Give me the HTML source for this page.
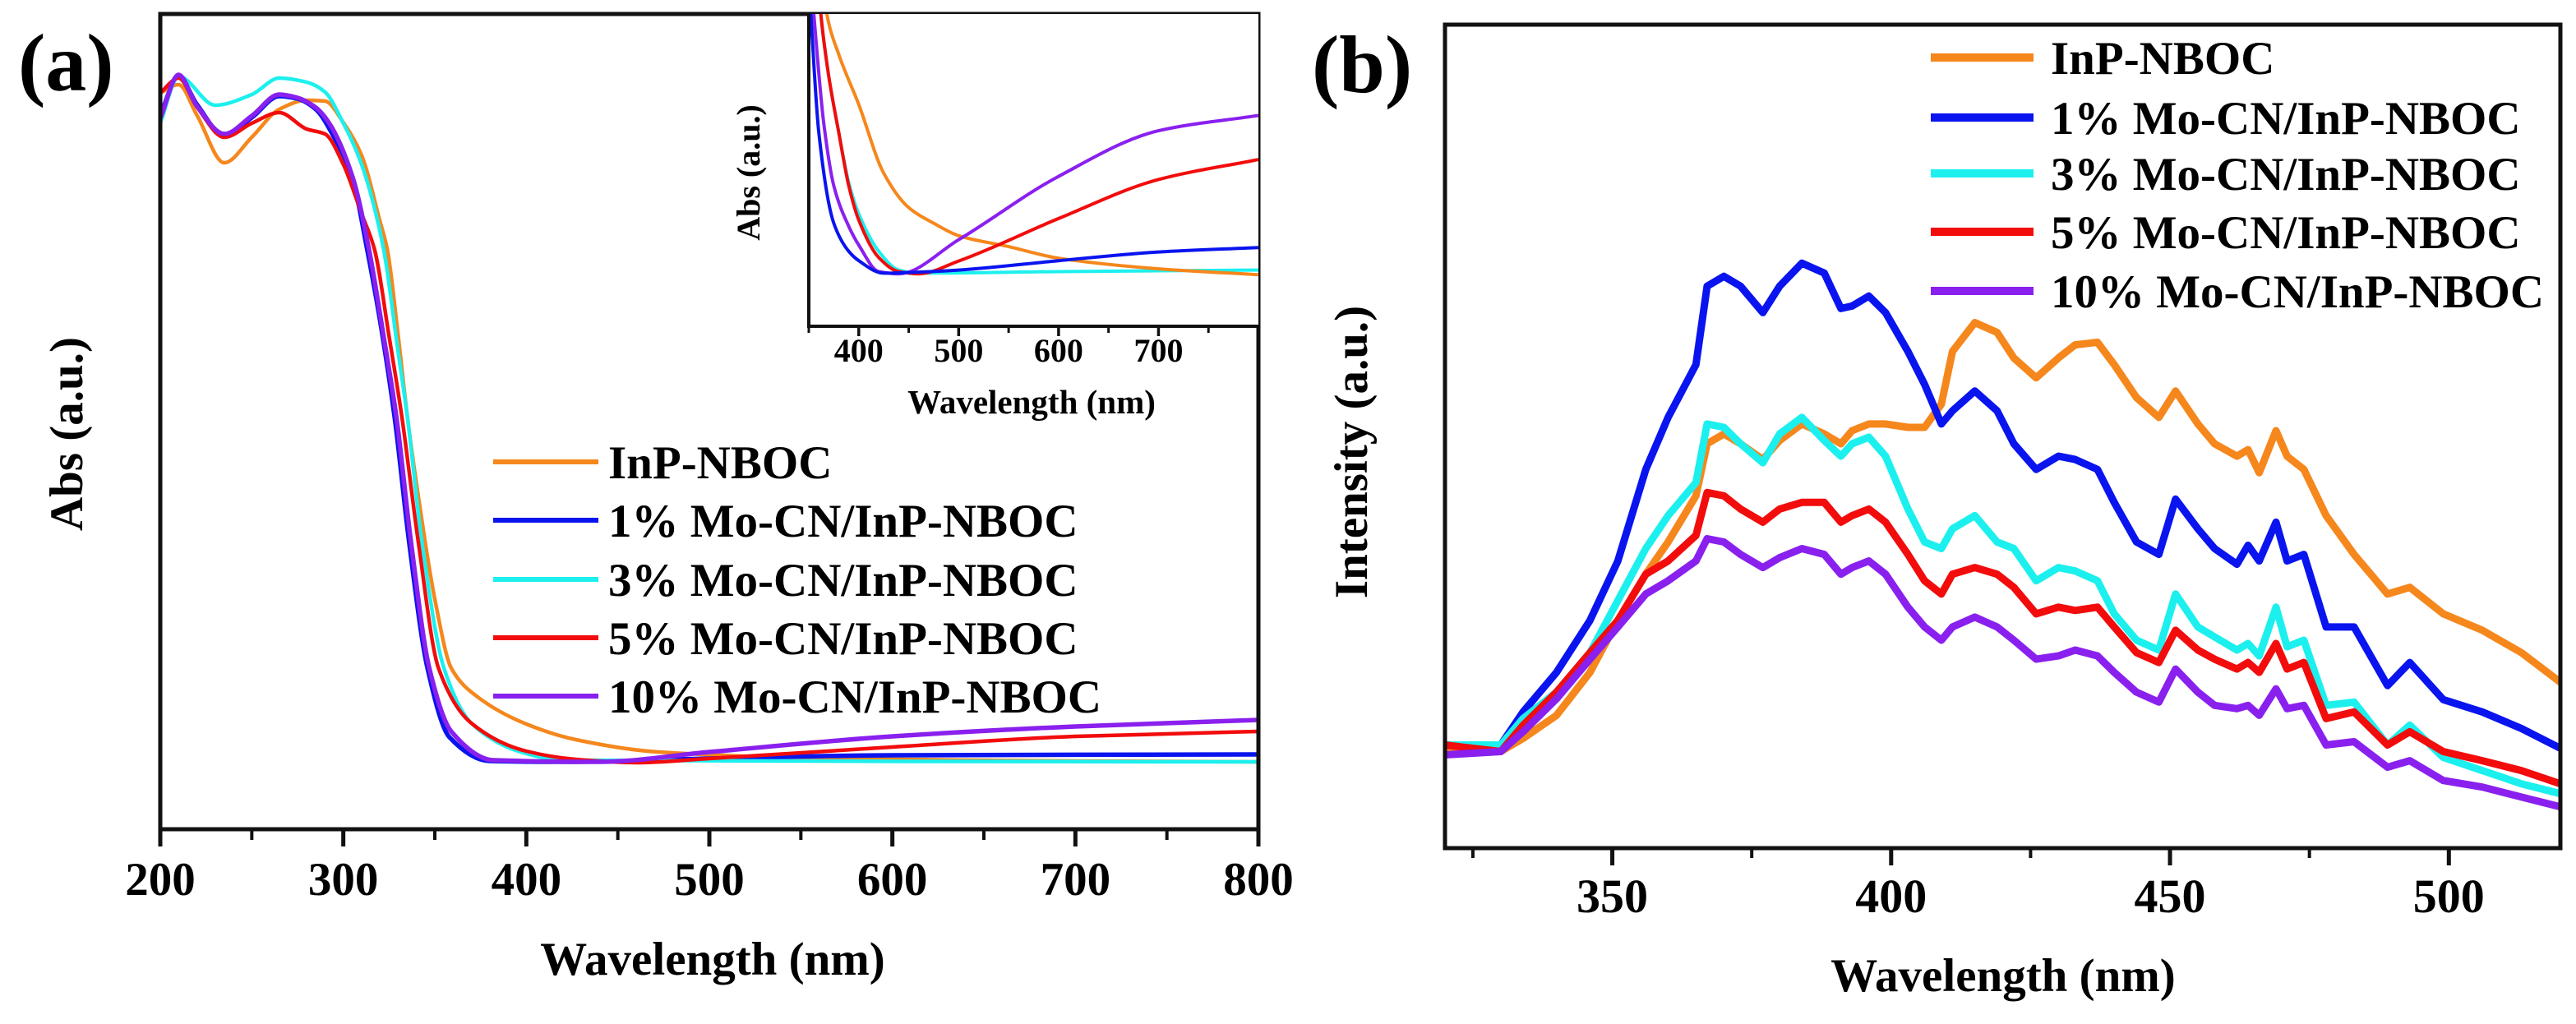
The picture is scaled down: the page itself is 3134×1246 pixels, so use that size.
<!DOCTYPE html>
<html><head><meta charset="utf-8"><style>
html,body{margin:0;padding:0;background:#fff;}
svg{display:block;font-family:"Liberation Serif",serif;font-weight:bold;}
</style></head><body>
<svg id="fig" width="3134" height="1246" viewBox="0 0 3134 1246" xmlns="http://www.w3.org/2000/svg">
<defs>
<clipPath id="clipA"><rect x="195" y="17" width="1336" height="992"/></clipPath>
<clipPath id="clipI"><rect x="984" y="17" width="547" height="380"/></clipPath>
<clipPath id="clipB"><rect x="1758" y="30" width="1357" height="1002"/></clipPath>
</defs>
<g id="panelA"></g>
<g id="panelB"></g>
</svg>
<script>
// ---------- Panel (a) main data ----------
const aOrangeX=[200,210,220,235,250,265,280,290,300,310,320,324,330,335,340,345,350,359,374,400,427,472,570,700,800];
const aOrangeY=[89.6,90.6,86.9,81.1,84.2,87.6,88.7,88.6,86,82,74,70.6,60,50.2,42,34.5,28,19.6,16,12.8,10.9,9.4,8.6,8.3,8.2];
const aBlueX=[200,210,220,235,250,265,275,285,295,305,313,320,328,336,346,358,380,420,500,600,800];
const aBlueY=[86.9,91.6,88.2,84.4,86.6,89.2,88.9,87.6,84.2,79.2,70.6,62,50.2,34.9,19.6,11.2,8.3,8.2,8.6,9.0,9.1];
const aCyanX=[200,210,230,250,265,280,290,300,310,322,330,335,343,355,370,397,420,800];
const aCyanY=[85.9,91.6,88.1,89.4,91.4,90.9,89.7,85.9,80.9,70.6,58,50.2,34.9,19.6,12.9,9.4,8.4,8.2];
const aRedX=[200,210,220,235,250,265,280,290,300,310,317,325,332,341,352,370,400,427,460,500,600,700,800];
const aRedY=[89.6,91.4,87.9,84.2,85.9,87.2,85.2,84.6,80.9,74.9,70.6,60,50.2,34.9,19.6,12.9,9.5,8.5,8.1,8.6,10.0,11.3,11.9];
const aPurpleX=[200,210,220,235,250,265,275,285,292,305,314,322,329,337,347,359,382,440,500,600,700,800];
const aPurpleY=[86.5,91.8,88,84.6,86.8,89.4,89.0,87.8,86,79.4,70.6,60,50.2,34.9,19.6,11.9,8.4,8.2,9.4,11.3,12.5,13.3];
const aTicks=[200,300,400,500,600,700,800];
const aMinor=[250,350,450,550,650,750];
// ---------- Panel (a) inset data ----------
const iOrangeX=[350,360,368,380,400,425,450,475,500,550,600,700,800];
const iOrangeY=[1.6,1.25,1.0,0.87,0.71,0.49,0.38,0.33,0.29,0.255,0.218,0.184,0.165];
const iBlueX=[350,352,360,375,390,400,425,450,500,600,700,800];
const iBlueY=[1.1,1.0,0.62,0.33,0.24,0.21,0.17,0.172,0.18,0.21,0.238,0.252];
const iCyanX=[355,362,370,380,390,400,420,440,460,600,800];
const iCyanY=[1.3,1.0,0.8,0.62,0.46,0.36,0.24,0.18,0.17,0.175,0.18];
const iRedX=[355,362,370,380,390,400,420,440,460,500,600,700,800];
const iRedY=[1.3,1.0,0.8,0.62,0.45,0.34,0.22,0.175,0.168,0.209,0.345,0.47,0.534];
const iPurpleX=[350,355,365,375,390,400,420,440,500,600,700,800];
const iPurpleY=[1.2,1.0,0.65,0.45,0.32,0.26,0.175,0.168,0.277,0.48,0.626,0.675];
const iTicks=[400,500,600,700];
const iMinor=[350,450,550,650,750];
// ---------- Panel (b) data ----------
const bWl=[320,330,334,340,346,351,356,360,365,367,370,373,377,380,384,388,391,393,396,399,403,406,409,411,415,419,422,426,430,433,437,440,444,448,451,455,458,462,464,466,469,471,474,478,483,489,493,499,506,513,520];
const bOrange=[12.1,11.7,13.3,16.1,21.3,27.6,33.2,37.1,42.7,49.0,50.2,49.0,47.1,49.4,51.4,50.2,49.0,50.6,51.4,51.4,51.0,51.0,53.8,60.2,63.7,62.5,59.4,57.0,59.4,61.0,61.3,58.6,54.6,52.2,55.4,51.4,49.0,47.5,48.3,45.5,50.6,47.5,45.9,40.3,35.6,30.8,31.6,28.4,26.4,23.7,20.1];
const bBlue=[12.5,12.5,16.5,21.3,27.6,34.8,45.9,52.2,58.6,68.1,69.3,68.1,64.9,68.1,70.9,69.7,65.4,65.7,66.9,64.9,60.2,56.2,51.4,53.0,55.4,53.0,49.0,45.9,47.5,47.1,45.9,41.9,37.1,35.6,42.3,38.7,36.3,34.4,36.7,34.8,39.5,34.8,35.6,26.8,26.8,19.7,22.5,18.0,16.5,14.5,12.1];
const bCyan=[12.5,12.5,15.7,18.9,23.7,30.0,36.3,40.3,44.3,51.4,51.0,49.0,46.7,50.2,52.2,49.4,47.5,49.0,49.8,47.5,41.1,37.1,36.3,38.7,40.3,37.1,36.3,32.4,34.0,33.6,32.4,28.4,25.2,24.0,30.8,26.8,25.6,24.0,24.8,23.3,29.2,24.4,25.2,17.3,17.7,12.5,14.9,11.0,9.4,7.8,6.6];
const bRed=[12.5,11.7,14.9,18.9,23.7,27.6,33.2,34.8,37.9,43.1,42.7,41.1,39.5,41.1,41.9,41.9,39.5,40.3,41.1,39.5,35.6,32.4,30.8,33.2,34.0,33.2,31.6,28.4,29.2,28.8,29.2,26.8,23.7,22.5,26.4,24.0,22.9,21.7,22.5,21.3,24.8,21.7,22.5,15.7,16.5,12.5,14.1,11.7,10.6,9.4,7.8];
const bPurple=[11.3,11.7,14.1,18.1,22.9,26.8,30.8,32.4,34.8,37.5,37.1,35.6,34.0,35.2,36.3,35.6,33.2,34.0,34.8,33.2,29.2,26.8,25.2,26.8,28.0,26.8,25.2,22.9,23.3,24.0,23.3,21.3,18.9,17.7,21.7,18.9,17.3,16.9,17.3,16.1,19.3,16.9,17.3,12.5,12.9,9.8,10.6,8.2,7.4,6.2,5.0];
const bTicks=[350,400,450,500];
const bMinor=[325,375,425,475];
const seriesNames=["InP-NBOC","1% Mo-CN/InP-NBOC","3% Mo-CN/InP-NBOC","5% Mo-CN/InP-NBOC","10% Mo-CN/InP-NBOC"];
const seriesKeys=["inp-nboc","1pct","3pct","5pct","10pct"];
const colors=["#F5871C","#0A14EE","#1CF0EE","#F20C0C","#8A20EE"];

const NS="http://www.w3.org/2000/svg";
function mk(tag,attrs,parent){const e=document.createElementNS(NS,tag);for(const k in attrs)e.setAttribute(k,attrs[k]);parent.appendChild(e);return e;}
function txt(s,attrs,parent){const e=mk("text",attrs,parent);e.textContent=s;return e;}
// monotone cubic (Fritsch-Carlson) in pixel space
function smoothPath(pts){
  const n=pts.length;
  if(n<3)return linePath(pts);
  const dx=[],dy=[],m=[];
  for(let i=0;i<n-1;i++){dx.push(pts[i+1][0]-pts[i][0]);dy.push(pts[i+1][1]-pts[i][1]);m.push(dy[i]/dx[i]);}
  const t=[m[0]];
  for(let i=1;i<n-1;i++){
    if(m[i-1]*m[i]<=0)t.push(0);
    else{const w1=2*dx[i]+dx[i-1],w2=dx[i]+2*dx[i-1];t.push((w1+w2)/(w1/m[i-1]+w2/m[i]));}
  }
  t.push(m[n-2]);
  let d="M"+pts[0][0].toFixed(1)+","+pts[0][1].toFixed(1);
  for(let i=0;i<n-1;i++){
    const h=dx[i];
    const c1=[pts[i][0]+h/3,pts[i][1]+t[i]*h/3];
    const c2=[pts[i+1][0]-h/3,pts[i+1][1]-t[i+1]*h/3];
    d+=" C"+c1[0].toFixed(1)+","+c1[1].toFixed(1)+" "+c2[0].toFixed(1)+","+c2[1].toFixed(1)+" "+pts[i+1][0].toFixed(1)+","+pts[i+1][1].toFixed(1);
  }
  return d;
}
function linePath(pts){return "M"+pts.map(p=>p[0].toFixed(1)+","+p[1].toFixed(1)).join(" L");}

// scales
const ax=nm=>195+(nm-200)/600*1336, ay=v=>1009-v*10;
const ix=nm=>984+(nm-350)/450*547, iy=v=>397-v*380;
const bx=nm=>1758+(nm-320)/200*1357, by=v=>1032-v*10.04;

const A=document.getElementById("panelA");
const B=document.getElementById("panelB");

// ----- Panel A main -----
const al=txt("(a)",{x:22,y:110,"font-size":100},A);


const aSeries=[[aOrangeX,aOrangeY],[aBlueX,aBlueY],[aCyanX,aCyanY],[aRedX,aRedY],[aPurpleX,aPurpleY]];
const aLines=mk("g",{"clip-path":"url(#clipA)"},A);


aSeries.forEach((s,k)=>{
  const pts=s[0].map((x,i)=>[ax(x),ay(s[1][i])]);
  const p=mk("path",{d:smoothPath(pts),fill:"none",stroke:colors[k],"stroke-width":(k==1||k==4)?5.5:4.5,"stroke-linejoin":"round"},aLines);
  
  
});
const aFrame=mk("rect",{x:195,y:17,width:1336,height:992,fill:"none",stroke:"#111","stroke-width":5},A);


aTicks.forEach(t=>{
  const l=mk("line",{x1:ax(t),x2:ax(t),y1:1009,y2:1030,stroke:"#111","stroke-width":5},A);
  
  
  const tl=txt(String(t),{x:ax(t),y:1089,"font-size":57,"text-anchor":"middle"},A);
  
  
});
aMinor.forEach(t=>{
  const l=mk("line",{x1:ax(t),x2:ax(t),y1:1009,y2:1022,stroke:"#111","stroke-width":4},A);
  
  
});
const axt=txt("Wavelength (nm)",{x:867,y:1186,"font-size":57,"text-anchor":"middle"},A);


const ayt=txt("Abs (a.u.)",{x:0,y:0,"font-size":57,"text-anchor":"middle",transform:"translate(100,528) rotate(-90)"},A);


// legend a
const aLegRows=[562,633,705,776,847];
const aLeg=mk("g",{},A);


seriesNames.forEach((n,k)=>{
  const g=mk("g",{},aLeg);
  
  
  mk("line",{x1:600,x2:728,y1:aLegRows[k],y2:aLegRows[k],stroke:colors[k],"stroke-width":6},g);
  txt(n,{x:740,y:aLegRows[k]+20,"font-size":57},g);
});
// ----- Inset -----
const ins=mk("g",{},A);


mk("rect",{x:984,y:17,width:547,height:380,fill:"#fff"},ins);
const iLines=mk("g",{"clip-path":"url(#clipI)"},ins);
const iSeries=[[iOrangeX,iOrangeY],[iBlueX,iBlueY],[iCyanX,iCyanY],[iRedX,iRedY],[iPurpleX,iPurpleY]];
[2,0,3,4,1].forEach(k=>{
  const s=iSeries[k];
  const pts=s[0].map((x,i)=>[ix(x),iy(s[1][i])]);
  const p=mk("path",{d:smoothPath(pts),fill:"none",stroke:colors[k],"stroke-width":4,"stroke-linejoin":"round"},iLines);
  
  
});
mk("polyline",{points:"984,17 984,397 1531,397",fill:"none",stroke:"#111","stroke-width":4},ins);
iTicks.forEach(t=>{
  mk("line",{x1:ix(t),x2:ix(t),y1:397,y2:409,stroke:"#111","stroke-width":3.5},ins);
  const tl=txt(String(t),{x:ix(t),y:440,"font-size":40,"text-anchor":"middle"},ins);
  
  
});
iMinor.forEach(t=>{mk("line",{x1:ix(t),x2:ix(t),y1:397,y2:405,stroke:"#111","stroke-width":3},ins);});
const ixt=txt("Wavelength (nm)",{x:1255,y:503,"font-size":41,"text-anchor":"middle"},ins);


const iyt=txt("Abs (a.u.)",{x:0,y:0,"font-size":40,"text-anchor":"middle",transform:"translate(924,210) rotate(-90)"},ins);



// ----- Panel B -----
const bl=txt("(b)",{x:1596,y:112,"font-size":100},B);


const bLines=mk("g",{"clip-path":"url(#clipB)"},B);


const bSeries=[bOrange,bBlue,bCyan,bRed,bPurple];
[0,1,2,3,4].forEach(k=>{
  const pts=bWl.map((x,i)=>[bx(x),by(bSeries[k][i])]);
  const p=mk("path",{d:linePath(pts),fill:"none",stroke:colors[k],"stroke-width":9,"stroke-linejoin":"round"},bLines);
  
  
});
const bFrame=mk("rect",{x:1758,y:30,width:1357,height:1002,fill:"none",stroke:"#111","stroke-width":5},B);


bTicks.forEach(t=>{
  mk("line",{x1:bx(t),x2:bx(t),y1:1032,y2:1053,stroke:"#111","stroke-width":5},B);
  const tl=txt(String(t),{x:bx(t),y:1110,"font-size":58,"text-anchor":"middle"},B);
  
  
});
bMinor.forEach(t=>{mk("line",{x1:bx(t),x2:bx(t),y1:1032,y2:1044,stroke:"#111","stroke-width":4},B);});
const bxt=txt("Wavelength (nm)",{x:2437,y:1206,"font-size":57,"text-anchor":"middle"},B);


const byt=txt("Intensity (a.u.)",{x:0,y:0,"font-size":57,"text-anchor":"middle",transform:"translate(1663,550) rotate(-90)"},B);


const bLegRows=[70,143,211,282,354];
const bLeg=mk("g",{},B);


seriesNames.forEach((n,k)=>{
  const g=mk("g",{},bLeg);
  
  
  mk("line",{x1:2349,x2:2474,y1:bLegRows[k],y2:bLegRows[k],stroke:colors[k],"stroke-width":10},g);
  txt(n,{x:2495,y:bLegRows[k]+20,"font-size":57},g);
});
</script>
</body></html>
